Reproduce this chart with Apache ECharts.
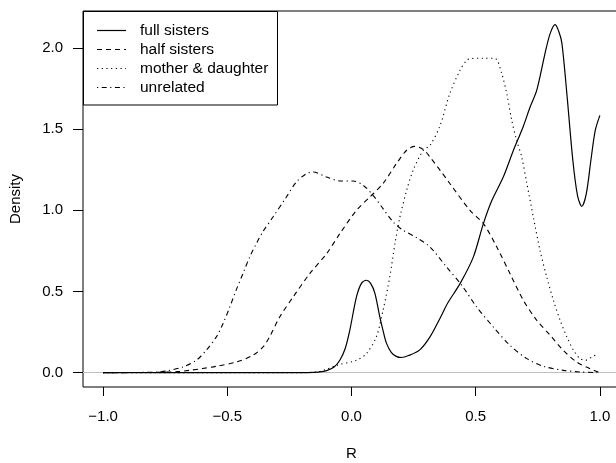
<!DOCTYPE html>
<html>
<head>
<meta charset="utf-8">
<script src="https://cdn.jsdelivr.net/npm/echarts@6/dist/echarts.min.js"></script>
<style>html,body{margin:0;padding:0;background:#fff;}#c{width:616px;height:463px;}</style>
</head>
<body>
<div id="c"></div>
<script>
var seriesNames = ['full sisters', 'half sisters', 'mother & daughter', 'unrelated'];
var xTicks = [-1, -0.5, 0, 0.5, 1];
var yTicks = [0, 0.5, 1, 1.5, 2];

var fullX = [-1,-0.5,-0.2,-0.15,-0.12,-0.1,-0.07,-0.047,-0.025,-0.007,0.02,0.04,0.06,0.077,0.094,0.114,0.13,0.141,0.16,0.18,0.2,0.23,0.275,0.316,0.356,0.388,0.437,0.49,0.531,0.565,0.611,0.652,0.69,0.719,0.746,0.779,0.80,0.82,0.835,0.847,0.867,0.891,0.91,0.927,0.945,0.964,0.981,1.0];
var fullY = [0,0,0,0.002,0.006,0.012,0.035,0.076,0.15,0.26,0.466,0.55,0.569,0.55,0.49,0.343,0.24,0.18,0.125,0.1,0.093,0.105,0.14,0.22,0.333,0.43,0.548,0.71,0.918,1.06,1.205,1.37,1.51,1.636,1.74,1.966,2.09,2.144,2.1,2.03,1.72,1.31,1.09,1.025,1.1,1.31,1.49,1.585];

var halfX = [-1,-0.8,-0.7,-0.652,-0.6,-0.544,-0.464,-0.397,-0.356,-0.33,-0.289,-0.235,-0.168,-0.1,-0.047,0.02,0.074,0.127,0.181,0.222,0.255,0.289,0.32,0.36,0.396,0.477,0.531,0.585,0.638,0.692,0.746,0.8,0.853,0.907,0.961,0.988,1.0];
var halfY = [0,0.001,0.006,0.014,0.025,0.039,0.065,0.107,0.158,0.22,0.343,0.466,0.61,0.733,0.856,1.0,1.082,1.165,1.288,1.37,1.394,1.375,1.32,1.24,1.165,1.0,0.918,0.774,0.61,0.445,0.322,0.23,0.137,0.065,0.024,0.006,0.002];

var motherX = [-1,-0.5,-0.2,-0.141,-0.1,-0.06,0.02,0.06,0.1,0.127,0.154,0.175,0.195,0.222,0.248,0.289,0.316,0.356,0.396,0.437,0.464,0.484,0.53,0.578,0.605,0.625,0.645,0.665,0.685,0.706,0.732,0.759,0.786,0.813,0.84,0.867,0.894,0.92,0.941,0.968,0.988];
var motherY = [0,0,0,0.004,0.02,0.045,0.076,0.117,0.22,0.384,0.589,0.795,0.959,1.123,1.246,1.37,1.40,1.52,1.72,1.863,1.925,1.935,1.937,1.935,1.842,1.72,1.555,1.43,1.33,1.165,0.959,0.753,0.589,0.445,0.322,0.22,0.137,0.086,0.076,0.096,0.113];

var unrelX = [-1,-0.85,-0.78,-0.746,-0.679,-0.625,-0.585,-0.544,-0.518,-0.491,-0.464,-0.437,-0.41,-0.383,-0.356,-0.316,-0.262,-0.222,-0.181,-0.155,-0.1,-0.047,0.006,0.047,0.087,0.127,0.168,0.208,0.262,0.316,0.383,0.444,0.504,0.571,0.638,0.706,0.773,0.853,0.92,0.988];
var unrelY = [0,0.001,0.004,0.01,0.035,0.076,0.137,0.22,0.30,0.40,0.51,0.61,0.712,0.795,0.87,0.959,1.082,1.175,1.226,1.236,1.205,1.181,1.181,1.154,1.092,1.01,0.928,0.877,0.832,0.774,0.65,0.538,0.404,0.281,0.168,0.086,0.039,0.014,0.004,0];

function pairs(xs, ys) { return xs.map(function (x, i) { return [x, ys[i]]; }); }
function fmt(v) { var s = Math.abs(v).toFixed(1); return v < 0 ? '\u2212' + s : s; }

var FONT = 'Liberation Sans, Arial, Helvetica, sans-serif';
var FS = 15;
var dashes = [null, [5, 4], [1.2, 3.5], [1.2, 3.5, 5, 3.5]];
var datasets = [pairs(fullX, fullY), pairs(halfX, halfY), pairs(motherX, motherY), pairs(unrelX, unrelY)];

var series = datasets.map(function (d, i) {
  var s = {
    name: seriesNames[i],
    type: 'line',
    data: d,
    showSymbol: false,
    symbol: 'none',
    smooth: 0.3,
    clip: true,
    lineStyle: { color: '#000', width: i === 0 ? 1.2 : 1.1, type: dashes[i] || 'solid' },
    itemStyle: { color: '#000' },
    z: 3
  };
  if (i === 0) {
    s.markLine = {
      silent: true,
      symbol: 'none',
      label: { show: false },
      lineStyle: { color: '#bebebe', type: 'solid', width: 1 },
      data: [{ yAxis: 0 }],
      z: 1
    };
  }
  return s;
});

// legend drawn as graphic (box, line samples, labels)
var legendGraphics = [{
  type: 'rect', z: 100,
  shape: { x: 83.5, y: 11.5, width: 194, height: 93.5 },
  style: { fill: '#fff', stroke: '#000', lineWidth: 1 }
}];
seriesNames.forEach(function (n, i) {
  var yy = 30.5 + i * 19;
  legendGraphics.push({
    type: 'line', z: 101,
    shape: { x1: 97, y1: yy, x2: 126, y2: yy },
    style: { stroke: '#000', lineWidth: i === 0 ? 1.2 : 1.1, lineDash: dashes[i] }
  });
  legendGraphics.push({
    type: 'text', z: 101,
    x: 140, y: yy,
    style: { text: n, fill: '#000', font: '15.5px ' + FONT, textVerticalAlign: 'middle', verticalAlign: 'middle', textAlign: 'left', align: 'left' }
  });
});

var chart = echarts.init(document.getElementById('c'), null, { renderer: 'canvas' });
chart.setOption({
  animation: false,
  backgroundColor: '#fff',
  textStyle: { fontFamily: FONT, color: '#000' },
  grid: { left: 83, top: 11, width: 537, height: 376, show: true, borderColor: '#000', borderWidth: 1, backgroundColor: 'transparent', containLabel: false, outerBoundsMode: 'none' },
  graphic: legendGraphics,
  xAxis: {
    type: 'value', min: -1.081, max: 1.081,
    name: 'R', nameLocation: 'middle', nameGap: 59,
    nameTextStyle: { fontFamily: FONT, fontSize: FS, color: '#000' },
    axisLine: { show: false, onZero: false },
    splitLine: { show: false },
    axisTick: { show: true, inside: false, length: 9, customValues: xTicks, lineStyle: { color: '#000', width: 1 } },
    axisLabel: { customValues: xTicks, margin: 22, fontFamily: FONT, fontSize: FS, color: '#000', formatter: fmt }
  },
  yAxis: {
    type: 'value', min: -0.0887, max: 2.228,
    name: 'Density', nameLocation: 'middle', nameGap: 60, nameRotate: 90,
    nameTextStyle: { fontFamily: FONT, fontSize: FS, color: '#000' },
    axisLine: { show: false, onZero: false },
    splitLine: { show: false },
    axisTick: { show: true, inside: false, length: 10, customValues: yTicks, lineStyle: { color: '#000', width: 1 } },
    axisLabel: { customValues: yTicks, margin: 20, fontFamily: FONT, fontSize: FS, color: '#000', formatter: fmt }
  },
  series: series
});
</script>
</body>
</html>
